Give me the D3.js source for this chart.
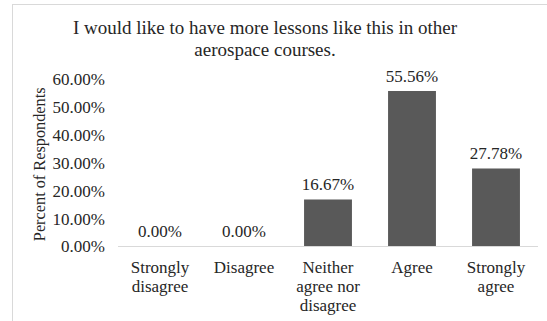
<!DOCTYPE html>
<html>
<head>
<meta charset="utf-8">
<script src="https://cdn.jsdelivr.net/npm/d3@7"></script>
<style>
  html, body { margin: 0; padding: 0; background: #fff; }
  svg { display: block; }
  svg text { font-family: "Liberation Serif", "Times New Roman", serif !important; fill: #262626; }
</style>
</head>
<body>
<svg id="chart" width="547" height="321"></svg>
<script>
// Survey responses
const categories = [
  ["Strongly", "disagree"],
  ["Disagree"],
  ["Neither", "agree nor", "disagree"],
  ["Agree"],
  ["Strongly", "agree"]
];
const values = [0.0, 0.0, 16.67, 55.56, 27.78];
const yTicks = [0, 10, 20, 30, 40, 50, 60];
const titleLines = ["I would like to have more lessons like this in other", "aerospace courses."];
const yLabel = "Percent of Respondents";

const FONT = "Liberation Serif";
const svg = d3.select("#chart");
const W = 547, H = 321;

// outer frame
svg.append("rect")
  .attr("x", 12.5).attr("y", 4.5)
  .attr("width", W + 10).attr("height", H + 10)
  .attr("fill", "#fff").attr("stroke", "#d9d9d9");

const plot = { left: 118, right: 538, top: 78.6, bottom: 246 };

const keys = categories.map(c => c.join(" "));
const x = d3.scaleBand()
  .domain(keys)
  .range([plot.left, plot.right])
  .paddingInner(0.43)
  .paddingOuter(0.215);

const y = d3.scaleLinear()
  .domain([0, 60])
  .range([plot.bottom, plot.top]);

// title
svg.append("text")
  .attr("text-anchor", "middle")
  .attr("font-family", FONT)
  .attr("font-size", 19)
  .selectAll("tspan")
  .data(titleLines)
  .join("tspan")
  .attr("x", 265)
  .attr("y", (d, i) => 34 + i * 22)
  .text(d => d);

// y axis tick labels
const yAxis = d3.axisLeft(y)
  .tickValues(yTicks)
  .tickSize(0)
  .tickPadding(0)
  .tickFormat(d => d.toFixed(2) + "%");
const yg = svg.append("g")
  .attr("transform", `translate(105,0)`)
  .call(yAxis)
  .attr("font-family", FONT);
yg.select(".domain").remove();
yg.selectAll("text")
  .attr("font-size", 17)
  .attr("fill", "#262626")
  .attr("dy", "0.35em");

// y axis title
svg.append("text")
  .attr("transform", `translate(45,${(plot.top + plot.bottom) / 2 + 2}) rotate(-90)`)
  .attr("text-anchor", "middle")
  .attr("font-family", FONT)
  .attr("font-size", 16.3)
  .text(yLabel);

// bars
svg.append("g")
  .selectAll("rect")
  .data(values)
  .join("rect")
  .attr("x", (d, i) => x(keys[i]))
  .attr("y", d => y(d))
  .attr("width", x.bandwidth())
  .attr("height", d => y(0) - y(d))
  .attr("fill", "#595959");

// value labels
svg.append("g")
  .selectAll("text")
  .data(values)
  .join("text")
  .attr("x", (d, i) => x(keys[i]) + x.bandwidth() / 2)
  .attr("y", d => y(d) - 9)
  .attr("text-anchor", "middle")
  .attr("font-family", FONT)
  .attr("font-size", 17)
  .text(d => d.toFixed(2) + "%");

// x axis line
svg.append("line")
  .attr("x1", plot.left).attr("x2", plot.right)
  .attr("y1", y(0) + 0.5).attr("y2", y(0) + 0.5)
  .attr("stroke", "#d9d9d9");

// category labels
const xAxis = d3.axisBottom(x).tickSize(0).tickFormat("");
const xg = svg.append("g")
  .attr("transform", `translate(0,${plot.bottom})`)
  .call(xAxis)
  .attr("font-family", FONT);
xg.select(".domain").remove();
xg.selectAll(".tick").each(function (k, i) {
  const t = d3.select(this).append("text")
    .attr("text-anchor", "middle")
    .attr("font-size", 17)
    .attr("fill", "#262626");
  t.selectAll("tspan")
    .data(categories[i])
    .join("tspan")
    .attr("x", 0)
    .attr("y", (d, j) => 27 + j * 19)
    .text(d => d);
});
</script>
</body>
</html>
